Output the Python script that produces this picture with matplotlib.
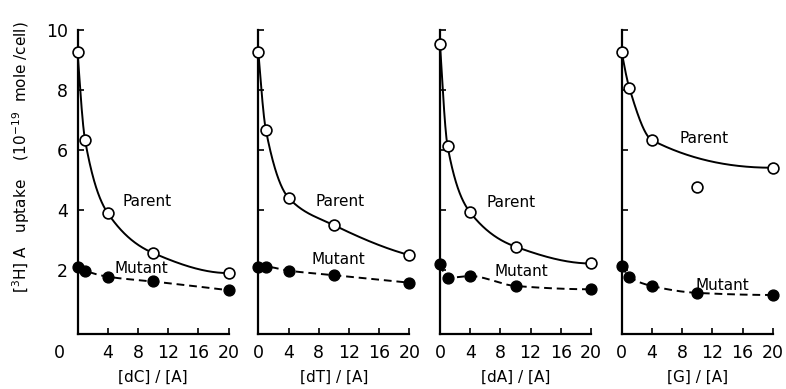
import numpy as np
import matplotlib
matplotlib.use("Agg")
import matplotlib.pyplot as plt

# ratio of competitor to A
ratio = [0, 1, 4, 10, 20]

panels = ["[dC] / [A]", "[dT] / [A]", "[dA] / [A]", "[G] / [A]"]

parent = [
    [9.28, 6.33, 3.90, 2.57, 1.90],
    [9.28, 6.67, 4.41, 3.50, 2.50],
    [9.53, 6.13, 3.92, 2.78, 2.22],
    [9.26, 8.08, 6.33, 4.76, 5.41],
]
mutant = [
    [2.10, 1.98, 1.78, 1.62, 1.33],
    [2.11, 2.11, 1.98, 1.83, 1.58],
    [2.19, 1.74, 1.80, 1.47, 1.36],
    [2.14, 1.78, 1.47, 1.24, 1.17],
]
# points the drawn curve passes through (the G point at 10 lies off the curve)
parent_fit = [
    [True, True, True, True, True],
    [True, True, True, True, True],
    [True, True, True, True, True],
    [True, True, True, False, True],
]

# label positions (x, y) in data units
parent_lbl = [(9.2, 4.3), (10.8, 4.3), (9.4, 4.25), (10.9, 6.4)]
mutant_lbl = [(8.4, 2.05), (10.6, 2.35), (10.8, 1.95), (13.3, 1.47)]


def pchip(x, y, xs):
    x = np.asarray(x, float)
    y = np.asarray(y, float)
    h = np.diff(x)
    delta = np.diff(y) / h
    n = len(x)
    d = np.zeros(n)
    for k in range(1, n - 1):
        if delta[k - 1] * delta[k] > 0:
            w1 = 2 * h[k] + h[k - 1]
            w2 = h[k] + 2 * h[k - 1]
            d[k] = (w1 + w2) / (w1 / delta[k - 1] + w2 / delta[k])
    d[0] = ((2 * h[0] + h[1]) * delta[0] - h[0] * delta[1]) / (h[0] + h[1]) if n > 2 else delta[0]
    if np.sign(d[0]) != np.sign(delta[0]):
        d[0] = 0
    d[-1] = ((2 * h[-1] + h[-2]) * delta[-1] - h[-1] * delta[-2]) / (h[-1] + h[-2]) if n > 2 else delta[-1]
    if np.sign(d[-1]) != np.sign(delta[-1]):
        d[-1] = 0
    idx = np.clip(np.searchsorted(x, xs) - 1, 0, n - 2)
    t = (xs - x[idx]) / h[idx]
    h00 = 2 * t**3 - 3 * t**2 + 1
    h10 = t**3 - 2 * t**2 + t
    h01 = -2 * t**3 + 3 * t**2
    h11 = t**3 - t**2
    return h00 * y[idx] + h10 * h[idx] * d[idx] + h01 * y[idx + 1] + h11 * h[idx] * d[idx + 1]


plt.rcParams['font.family'] = 'DejaVu Sans'
fig = plt.figure(figsize=(7.86, 3.89), dpi=100)

W, H = 786, 389
lefts = [77.5, 258.3, 440, 621.7]
ax_w = 151
ax_bottom = 334
ax_h = 304

xs = np.linspace(0, 20, 400)

for i in range(4):
    ax = fig.add_axes([lefts[i] / W, (H - ax_bottom) / H, ax_w / W, ax_h / H])
    ax.set_xlim(0, 20)
    ax.set_ylim(-0.13, 10)
    for s in ['top', 'right']:
        ax.spines[s].set_visible(False)
    for s in ['left', 'bottom']:
        ax.spines[s].set_linewidth(1.6)

    x = np.array(ratio, float)
    p = np.array(parent[i])
    m = np.array(mutant[i])
    fit = np.array(parent_fit[i])

    ax.plot(xs, pchip(x[fit], p[fit], xs), color='black', lw=1.4, clip_on=False)
    ax.plot(xs, pchip(x, m, xs), color='black', lw=1.4, ls=(0, (4, 2.5)), clip_on=False)
    ax.plot(x, p, 'o', ms=7.8, mfc='white', mec='black', mew=1.2, clip_on=False, zorder=5)
    ax.plot(x, m, 'o', ms=7.8, mfc='black', mec='black', clip_on=False, zorder=5)

    ax.text(*parent_lbl[i], 'Parent', fontsize=11, ha='center', va='center')
    ax.text(*mutant_lbl[i], 'Mutant', fontsize=11, ha='center', va='center')

    ax.set_yticks([2, 4, 6, 8, 10])
    ax.tick_params(direction='in', length=4, width=1.2, labelsize=12.5, pad=7)
    if i == 0:
        ax.set_xticks([4, 8, 12, 16, 20])
        ax.text(-2.4, -0.75, '0', fontsize=12.5, ha='center', va='center', clip_on=False)
    else:
        ax.set_xticks([0, 4, 8, 12, 16, 20])
        ax.set_yticklabels([])
    ax.set_xlabel(panels[i], fontsize=11, labelpad=6)

fig.text(21 / W, (H - 157) / H, r'[$^3$H] A   uptake    (10$^{-19}$  mole /cell)',
         rotation=90, fontsize=11, ha='center', va='center')

fig.savefig('out.png', dpi=100)
